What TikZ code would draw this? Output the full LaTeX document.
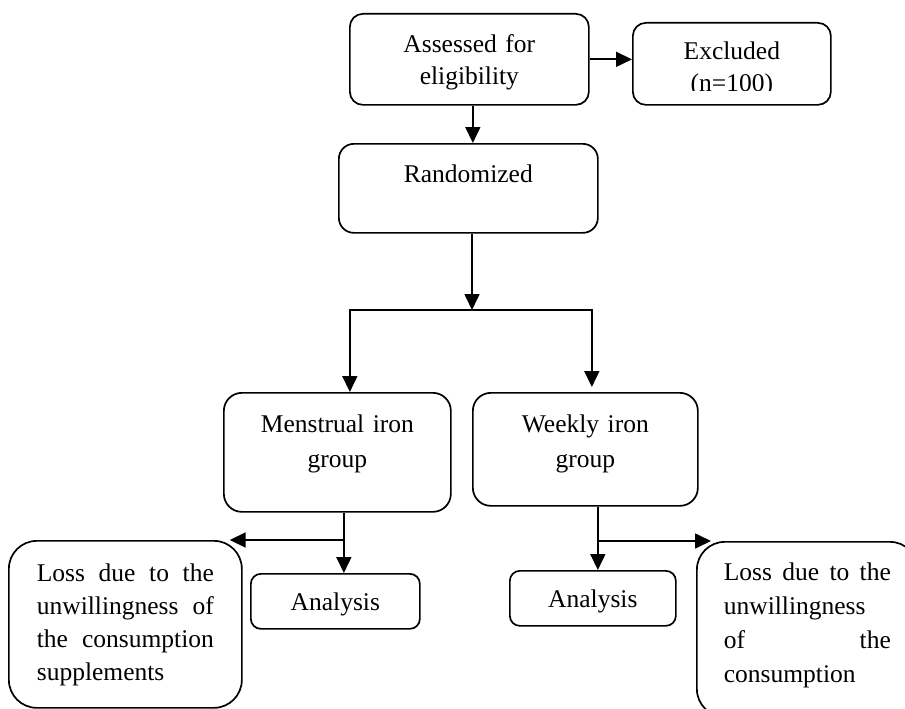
\documentclass[tikz,border=0pt]{standalone}
\usepackage{fontspec}
\setmainfont{Liberation Serif}
\usetikzlibrary{arrows.meta}
\newcommand{\flowfont}[1]{\fontsize{25.5}{#1}\selectfont}
\tikzset{
  flowbox/.style={draw, line width=1.7pt, anchor=north west, inner xsep=0pt, inner ysep=0pt, align=center},
  arr/.style={line width=1.7pt, -{Triangle[length=16pt,width=15pt]}}
}

\begin{document}
\begin{tikzpicture}[x=1pt, y=-1pt]
    \useasboundingbox (0,0) rectangle (905,709);
    \clip (0,0) rectangle (905,709);

    % Screening
    \node[flowbox, rounded corners=13pt, text width=239pt, text height=39pt, text depth=52pt, font={\flowfont{31.5}}] (assess) at (349,13) {Assessed for\\eligibility};
    \begin{scope}[even odd rule]
        \clip (600,0) rectangle (860,130) (640,90.7) rectangle (822,102);
        \node[flowbox, rounded corners=13pt, text width=198pt, text height=37pt, text depth=45pt, font={\flowfont{32}}] (excl) at (632,22) {Excluded\\(n=100)};
    \end{scope}
    \node[flowbox, rounded corners=15pt, text width=259pt, text height=39pt, text depth=50pt, font={\flowfont{31}}] (rand) at (338,143) {Randomized};

    % Groups
    \node[flowbox, rounded corners=18pt, text width=227pt, text height=40pt, text depth=79pt, font={\flowfont{35}}] (mens) at (223,392) {Menstrual iron\\group};
    \node[flowbox, rounded corners=18pt, text width=225pt, text height=40pt, text depth=73pt, font={\flowfont{35}}] (week) at (472,392) {Weekly iron\\group};

    % Outcome
    \node[flowbox, rounded corners=10pt, text width=169pt, text height=37pt, text depth=18pt, font={\flowfont{31}}] (anaL) at (250,573) {Analysis};
    \node[flowbox, rounded corners=10pt, text width=166pt, text height=37pt, text depth=18pt, font={\flowfont{31}}] (anaR) at (509,570) {Analysis};
    \node[flowbox, rounded corners=28pt, inner xsep=28pt, text width=177pt, align=justify, text height=41pt, text depth=126pt, font={\flowfont{33}}] (lossL) at (8,540) {Loss due to the\linebreak unwillingness of\linebreak the consumption\linebreak supplements};
    \node[flowbox, rounded corners=28pt, inner xsep=27pt, text width=167pt, align=justify, text height=39pt, text depth=136pt, font={\flowfont{34}}] (lossR) at (696,541) {Loss due to the\linebreak unwillingness\linebreak of the\linebreak consumption};

    % Connectors
    \draw[arr] (assess.east) -- (assess.east -| excl.west);
    \draw[arr] ([xshift=3.5pt]assess.south) -- ([xshift=3.5pt]assess.south |- rand.north);
    \coordinate (fork) at (472,310);
    \draw[arr] (fork |- rand.south) -- (fork);
    \draw[arr] (fork) -| ([xshift=12.5pt]mens.north);
    \draw[arr, shorten >=5pt] (fork) -| ([xshift=6.5pt]week.north);
    \draw[arr] ([xshift=6.5pt]mens.south) -- ([xshift=6.5pt]mens.south |- anaL.north);
    \draw[arr] ([xshift=6.5pt]mens.south |- lossL.north) -- ([xshift=-13pt]lossL.north east);
    \draw[arr] ([xshift=12.5pt]week.south) -- ([xshift=12.5pt]week.south |- anaR.north);
    \draw[arr] ([xshift=12.5pt]week.south |- lossR.north) -- ([xshift=15pt]lossR.north west);
\end{tikzpicture}
\end{document}
